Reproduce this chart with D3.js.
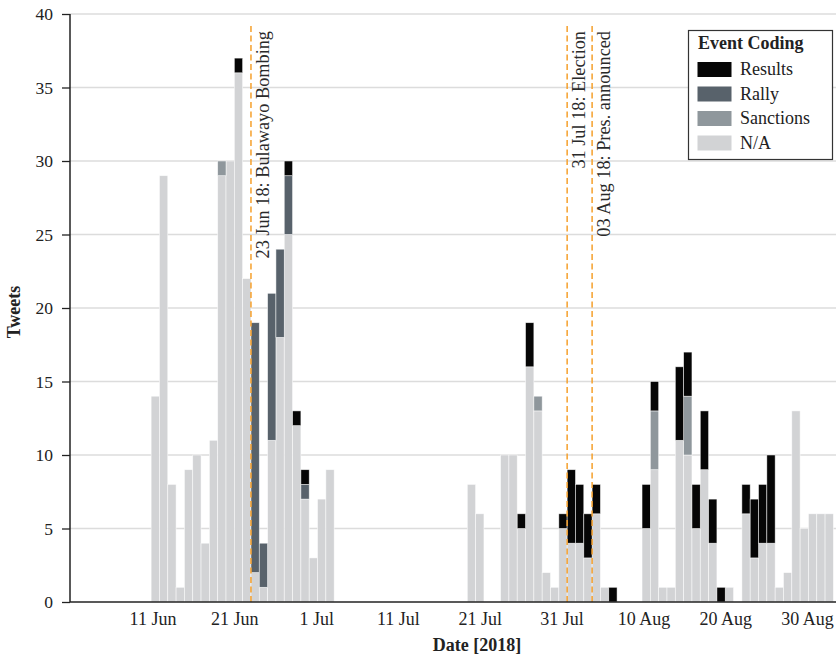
<!DOCTYPE html>
<html>
<head>
<meta charset="utf-8">
<script src="https://cdn.jsdelivr.net/npm/d3@7"></script>
<style>
  body { margin: 0; background: white; }
  svg text { font-family: "Liberation Serif", "DejaVu Serif", serif; }
</style>
</head>
<body>
<script>
// daily tweet counts, stacked N/A -> Sanctions -> Rally -> Results
var dates = [
  "2018-06-11","2018-06-12","2018-06-13","2018-06-14","2018-06-15","2018-06-16","2018-06-17",
  "2018-06-18","2018-06-19","2018-06-20","2018-06-21","2018-06-22","2018-06-23","2018-06-24",
  "2018-06-25","2018-06-26","2018-06-27","2018-06-28","2018-06-29","2018-06-30","2018-07-01",
  "2018-07-02",
  "2018-07-19","2018-07-20","2018-07-23","2018-07-24","2018-07-25","2018-07-26","2018-07-27",
  "2018-07-28","2018-07-29","2018-07-30","2018-07-31","2018-08-01","2018-08-02","2018-08-03",
  "2018-08-04","2018-08-05",
  "2018-08-09","2018-08-10","2018-08-11","2018-08-12","2018-08-13","2018-08-14","2018-08-15",
  "2018-08-16","2018-08-17","2018-08-18","2018-08-19",
  "2018-08-21","2018-08-22","2018-08-23","2018-08-24","2018-08-25","2018-08-26","2018-08-27",
  "2018-08-28","2018-08-29","2018-08-30","2018-08-31"
];
var naCounts = [
  14,29,8,1,9,10,4, 11,29,30,36,22,2,1, 11,18,25,12,7,3,7, 9,
  8,6,10,10,5,16,13, 2,1,5,4,4,3,6, 1,0,
  5,9,1,1,11,10,5, 9,4,0,1,
  6,3,4,4,1,2,13, 5,6,6,6
];
var sanctionCounts = [
  0,0,0,0,0,0,0, 0,1,0,0,0,0,0, 0,0,0,0,0,0,0, 0,
  0,0,0,0,0,0,1, 0,0,0,0,0,0,0, 0,0,
  0,4,0,0,0,4,0, 0,0,0,0,
  0,0,0,0,0,0,0, 0,0,0,0
];
var rallyCounts = [
  0,0,0,0,0,0,0, 0,0,0,0,0,17,3, 10,6,4,0,1,0,0, 0,
  0,0,0,0,0,0,0, 0,0,0,0,0,0,0, 0,0,
  0,0,0,0,0,0,0, 0,0,0,0,
  0,0,0,0,0,0,0, 0,0,0,0
];
var resultCounts = [
  0,0,0,0,0,0,0, 0,0,0,1,0,0,0, 0,0,1,1,1,0,0, 0,
  0,0,0,0,1,3,0, 0,0,1,5,4,3,2, 0,1,
  3,2,0,0,5,3,3, 4,3,1,0,
  2,4,4,6,0,0,0, 0,0,0,0
];

var seriesKeys = ["na", "sanctions", "rally", "results"];
var seriesNames = ["N/A", "Sanctions", "Rally", "Results"];
var seriesColors = ["#d2d3d5", "#8f979c", "#58626b", "#060606"];

var tickDates = ["2018-06-11","2018-06-21","2018-07-01","2018-07-11","2018-07-21",
                 "2018-07-31","2018-08-10","2018-08-20","2018-08-30"];
var tickLabels = ["11 Jun","21 Jun","1 Jul","11 Jul","21 Jul","31 Jul","10 Aug","20 Aug","30 Aug"];
var yTicks = [0, 5, 10, 15, 20, 25, 30, 35, 40];

var eventDates = ["2018-06-23", "2018-07-31", "2018-08-03"];
var eventLabels = ["23 Jun 18: Bulawayo Bombing", "31 Jul 18: Election", "03 Aug 18: Pres. announced"];

var parseDay = d3.utcParse("%Y-%m-%d");

var rows = dates.map(function (d, i) {
   return {
      date: parseDay(d),
      na: naCounts[i],
      sanctions: sanctionCounts[i],
      rally: rallyCounts[i],
      results: resultCounts[i]
   };
});

var svgWidth = 836, svgHeight = 658;
var plotLeft = 70, plotRight = 836, plotTop = 14, plotBottom = 602;

var svg = d3.select("body").append("svg")
   .attr("width", svgWidth)
   .attr("height", svgHeight);

var x = d3.scaleUtc()
   .domain([new Date(Date.UTC(2018, 5, 1, 6)), new Date(Date.UTC(2018, 8, 1, 7, 30))])
   .range([plotLeft, plotRight]);
// tick labels sit on a slightly tighter spacing than the bars in the original
var xLabels = d3.scaleUtc()
   .domain([parseDay(tickDates[0]), parseDay(tickDates[tickDates.length - 1])])
   .range([152.5, 807]);
var y = d3.scaleLinear().domain([0, 40]).range([plotBottom, plotTop]);
var color = d3.scaleOrdinal().domain(seriesKeys).range(seriesColors);

// grid
svg.append("g").selectAll("line")
   .data(yTicks.slice(1))
   .enter().append("line")
   .attr("x1", plotLeft).attr("x2", plotRight)
   .attr("y1", function (d) { return y(d); })
   .attr("y2", function (d) { return y(d); })
   .style("stroke", "#dcdcdc")
   .style("stroke-width", 1.5);

// stacked bars
var stacked = d3.stack().keys(seriesKeys)(rows);
svg.append("g").selectAll("g")
   .data(stacked)
   .enter().append("g")
   .attr("fill", function (s) { return color(s.key); })
   .selectAll("rect")
   .data(function (s) { return s.filter(function (p) { return p[1] > p[0]; }); })
   .enter().append("rect")
   .attr("x", function (p) { return x(p.data.date); })
   .attr("width", function (p) { return x(d3.utcDay.offset(p.data.date, 1)) - x(p.data.date); })
   .attr("y", function (p) { return y(p[1]); })
   .attr("height", function (p) { return y(p[0]) - y(p[1]); })
   .style("stroke", "#ffffff")
   .style("stroke-opacity", 0.7)
   .style("stroke-width", 0.7);

// event markers
var events = svg.append("g").selectAll("g")
   .data(eventDates)
   .enter().append("g");
events.append("line")
   .attr("x1", function (d) { return x(parseDay(d)); })
   .attr("x2", function (d) { return x(parseDay(d)); })
   .attr("y1", 26).attr("y2", plotBottom)
   .style("stroke", "#f5a02c")
   .style("stroke-width", 1.5)
   .style("stroke-dasharray", "6,3.5");
events.append("text")
   .attr("transform", function (d) { return "translate(" + (x(parseDay(d)) + 18) + ",31) rotate(-90)"; })
   .attr("text-anchor", "end")
   .style("font-size", "18.3px")
   .style("fill", "#2a2a2a")
   .text(function (d, i) { return eventLabels[i]; });

// axes
var yAxis = svg.append("g")
   .attr("transform", "translate(" + plotLeft + ",0)")
   .call(d3.axisLeft(y).tickValues(yTicks).tickSize(8).tickPadding(9).tickSizeOuter(0));
yAxis.select(".domain").remove();
yAxis.selectAll("line").style("stroke", "#222").style("stroke-width", 1.3);
yAxis.selectAll("text").style("font-size", "17.5px").style("fill", "#222");

var xAxis = svg.append("g")
   .attr("transform", "translate(0," + plotBottom + ")")
   .call(d3.axisBottom(xLabels)
      .tickValues(tickDates.map(parseDay))
      .tickFormat(function (d, i) { return tickLabels[i]; })
      .tickSize(0).tickPadding(10));
xAxis.select(".domain").remove();
xAxis.selectAll("text").style("font-size", "18px").style("fill", "#222");

svg.append("line")
   .attr("x1", plotLeft).attr("x2", plotLeft).attr("y1", plotTop).attr("y2", plotBottom)
   .style("stroke", "#222").style("stroke-width", 1.5);
svg.append("line")
   .attr("x1", plotLeft).attr("x2", plotRight).attr("y1", plotBottom).attr("y2", plotBottom)
   .style("stroke", "#222").style("stroke-width", 1.5);

svg.append("text")
   .attr("x", 477).attr("y", 651)
   .attr("text-anchor", "middle")
   .style("font-size", "18px").style("font-weight", "bold").style("fill", "#222")
   .text("Date [2018]");
svg.append("text")
   .attr("transform", "translate(20,312) rotate(-90)")
   .attr("text-anchor", "middle")
   .style("font-size", "18px").style("font-weight", "bold").style("fill", "#222")
   .text("Tweets");

// legend
var legend = svg.append("g");
legend.append("rect")
   .attr("x", 688.5).attr("y", 30.5).attr("width", 144).attr("height", 129)
   .style("fill", "white").style("stroke", "#333").style("stroke-width", 1.2);
legend.append("text")
   .attr("x", 698).attr("y", 49)
   .style("font-size", "18px").style("font-weight", "bold").style("fill", "#222")
   .text("Event Coding");
var legendKeys = seriesKeys.slice().reverse();
var items = legend.selectAll("g.item")
   .data(legendKeys)
   .enter().append("g")
   .attr("class", "item")
   .attr("transform", function (k, i) { return "translate(697.5," + (62 + i * 24.5) + ")"; });
items.append("rect")
   .attr("width", 34).attr("height", 15)
   .attr("fill", function (k) { return color(k); });
items.append("text")
   .attr("x", 42.5).attr("y", 13)
   .style("font-size", "18px").style("fill", "#222")
   .text(function (k) { return seriesNames[seriesKeys.indexOf(k)]; });
</script>
</body>
</html>
